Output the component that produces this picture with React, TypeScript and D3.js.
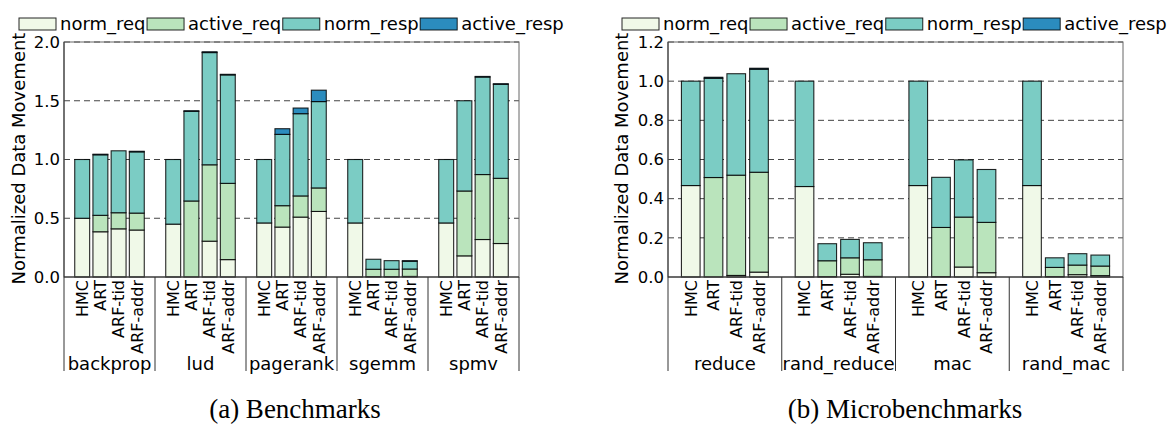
import React, { useEffect, useRef } from 'react';
import * as d3 from 'd3';

// series / legend
const seriesKeys = ['norm_req', 'active_req', 'norm_resp', 'active_resp'];
const seriesColors = ['#f0f9e8', '#bae4bc', '#7bccc4', '#2b8cbe'];
const configs = ['HMC', 'ART', 'ARF-tid', 'ARF-addr'];

// (a) benchmarks: values are group-major, 4 configs per group
const benchGroups = ['backprop', 'lud', 'pagerank', 'sgemm', 'spmv'];
const benchNormReq = [0.5, 0.385, 0.41, 0.4, 0.45, 0.0, 0.305, 0.148, 0.46, 0.425, 0.51, 0.558, 0.46, 0.003, 0.003, 0.005, 0.46, 0.18, 0.319, 0.285];
const benchActiveReq = [0, 0.14, 0.137, 0.144, 0, 0.647, 0.65, 0.649, 0, 0.182, 0.18, 0.2, 0, 0.063, 0.063, 0.063, 0, 0.552, 0.553, 0.555];
const benchNormResp = [0.5, 0.515, 0.527, 0.521, 0.55, 0.763, 0.955, 0.923, 0.54, 0.607, 0.7, 0.735, 0.54, 0.085, 0.073, 0.066, 0.54, 0.768, 0.83, 0.8];
const benchActiveResp = [0, 0.005, 0, 0.005, 0, 0.005, 0.007, 0.005, 0, 0.048, 0.048, 0.097, 0, 0, 0, 0.005, 0, 0, 0.005, 0.005];
const benchTicks = [0, 0.5, 1.0, 1.5, 2.0];

// (b) microbenchmarks
const microGroups = ['reduce', 'rand_reduce', 'mac', 'rand_mac'];
const microNormReq = [0.467, 0, 0.008, 0.025, 0.462, 0.002, 0.014, 0.003, 0.467, 0.002, 0.051, 0.022, 0.467, 0.002, 0.012, 0.007];
const microActiveReq = [0, 0.508, 0.512, 0.51, 0, 0.081, 0.084, 0.085, 0, 0.251, 0.255, 0.257, 0, 0.047, 0.049, 0.049];
const microNormResp = [0.533, 0.507, 0.518, 0.526, 0.538, 0.087, 0.094, 0.087, 0.533, 0.256, 0.292, 0.27, 0.533, 0.049, 0.058, 0.056];
const microActiveResp = [0, 0.005, 0, 0.005, 0, 0, 0, 0, 0, 0, 0, 0, 0, 0, 0, 0];
const microTicks = [0, 0.2, 0.4, 0.6, 0.8, 1.0, 1.2];

const FONT = 'DejaVu Sans, sans-serif';

type Panel = {
  groups: string[];
  series: number[][];
  ticks: number[];
  left: number;
  right: number;
  legendX: number;
  labelX: number;
  caption: string;
  captionX: number;
};

function drawPanel(svg: d3.Selection<SVGSVGElement, unknown, null, undefined>, p: Panel) {
  const top = 42;
  const bottom = 277;
  const g = svg.append('g');

  const rows = [] as any[];
  p.groups.forEach((grp, gi) => {
    configs.forEach((c, ci) => {
      const r: any = { group: grp, config: c };
      seriesKeys.forEach((k, si) => (r[k] = p.series[si][gi * configs.length + ci]));
      rows.push(r);
    });
  });

  const x0 = d3.scaleBand().domain(p.groups).range([p.left, p.right]);
  const x1 = d3.scaleBand().domain(configs).range([0, x0.bandwidth()]).paddingInner(0.18).paddingOuter(0.59);
  const y = d3.scaleLinear().domain([0, p.ticks[p.ticks.length - 1]]).range([bottom, top]);

  // grid
  g.selectAll('line.grid')
    .data(p.ticks.slice(1))
    .enter()
    .append('line')
    .attr('x1', p.left)
    .attr('x2', p.right)
    .attr('y1', (d) => y(d))
    .attr('y2', (d) => y(d))
    .attr('stroke', '#444')
    .attr('stroke-dasharray', '6,4');

  // bars
  const stacked = d3.stack().keys(seriesKeys)(rows);
  stacked.forEach((layer, si) => {
    g.append('g')
      .selectAll('rect')
      .data(layer)
      .enter()
      .append('rect')
      .attr('x', (d: any) => x0(d.data.group)! + x1(d.data.config)!)
      .attr('width', x1.bandwidth())
      .attr('y', (d) => y(d[1]))
      .attr('height', (d) => Math.max(0, y(d[0]) - y(d[1])))
      .attr('fill', seriesColors[si])
      .attr('stroke', '#000')
      .attr('stroke-opacity', 0.85)
      .attr('stroke-width', 1.1);
  });

  // frame
  g.append('rect')
    .attr('x', p.left)
    .attr('y', top)
    .attr('width', p.right - p.left)
    .attr('height', bottom - top)
    .attr('fill', 'none')
    .attr('stroke', '#666');
  g.append('line').attr('x1', p.left).attr('x2', p.right).attr('y1', bottom).attr('y2', bottom).attr('stroke', '#222');
  g.append('line').attr('x1', p.left).attr('x2', p.left).attr('y1', top).attr('y2', bottom).attr('stroke', '#333');

  // y axis
  const yAxis = g.append('g')
    .attr('transform', `translate(${p.left},0)`)
    .call(d3.axisLeft(y).tickValues(p.ticks).tickSize(0).tickPadding(4).tickFormat(d3.format('.1f')));
  yAxis.select('.domain').remove();
  yAxis.selectAll('text').attr('font-family', FONT).attr('font-size', 16.5).attr('fill', '#000');

  g.append('text')
    .attr('transform', `translate(${p.labelX},${(top + bottom) / 2 - 1}) rotate(-90)`)
    .attr('text-anchor', 'middle')
    .attr('font-family', FONT)
    .attr('font-size', 18)
    .text('Normalized Data Movement');

  // x tick labels
  rows.forEach((r) => {
    const cx = x0(r.group)! + x1(r.config)! + x1.bandwidth() / 2;
    g.append('text')
      .attr('transform', `translate(${cx},${bottom + 3}) rotate(-90)`)
      .attr('text-anchor', 'end')
      .attr('dy', '0.36em')
      .attr('font-family', FONT)
      .attr('font-size', 16)
      .text(r.config);
  });

  // group dividers and labels
  const edges = p.groups.map((grp) => x0(grp)!).concat([p.right]);
  edges.forEach((ex) => {
    g.append('line').attr('x1', ex).attr('x2', ex).attr('y1', bottom).attr('y2', 371).attr('stroke', '#333');
  });
  p.groups.forEach((grp) => {
    g.append('text')
      .attr('x', x0(grp)! + x0.bandwidth() / 2)
      .attr('y', 370)
      .attr('text-anchor', 'middle')
      .attr('font-family', FONT)
      .attr('font-size', 18)
      .text(grp);
  });

  // legend
  let lx = p.legendX;
  seriesKeys.forEach((k, si) => {
    g.append('rect')
      .attr('x', lx)
      .attr('y', 18)
      .attr('width', 37)
      .attr('height', 12)
      .attr('fill', seriesColors[si])
      .attr('stroke', '#000')
      .attr('stroke-opacity', 0.85);
    const t = g.append('text')
      .attr('x', lx + 41)
      .attr('y', 30)
      .attr('font-family', FONT)
      .attr('font-size', 18)
      .text(k);
    const w = (t.node() as SVGTextElement).getComputedTextLength();
    lx += 41 + w + 1.5;
  });

  // caption
  g.append('text')
    .attr('x', p.captionX)
    .attr('y', 418)
    .attr('text-anchor', 'middle')
    .attr('font-family', 'Liberation Serif, Times New Roman, serif')
    .attr('font-size', 27)
    .text(p.caption);
}

const App = () => {
  const svgRef = useRef<SVGSVGElement>(null);

  useEffect(() => {
    const svg = d3.select(svgRef.current!);
    svg.selectAll('*').remove();

    drawPanel(svg as any, {
      groups: benchGroups,
      series: [benchNormReq, benchActiveReq, benchNormResp, benchActiveResp],
      ticks: benchTicks,
      left: 64,
      right: 519,
      legendX: 19,
      labelX: 25,
      caption: '(a) Benchmarks',
      captionX: 295,
    });
    drawPanel(svg as any, {
      groups: microGroups,
      series: [microNormReq, microActiveReq, microNormResp, microActiveResp],
      ticks: microTicks,
      left: 668,
      right: 1123,
      legendX: 622,
      labelX: 628,
      caption: '(b) Microbenchmarks',
      captionX: 905,
    });
  }, []);

  return (
    <svg
      ref={svgRef}
      width={1171}
      height={424}
      style={{ position: 'absolute', left: 0, top: 0, background: '#fff' }}
    />
  );
};

export default App;
